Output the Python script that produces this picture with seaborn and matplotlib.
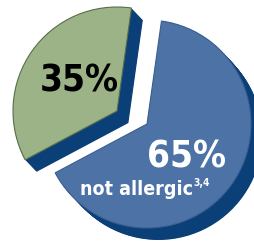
import numpy as np
import matplotlib
matplotlib.use("Agg")
import matplotlib.pyplot as plt
import seaborn as sns

labels = ["not allergic", "allergic"]
values = [65, 35]
pct_labels = ["65%", "35%"]
note = "3,4"

top_colors = ["#4D72A5", "#9CB387"]
dark = "#0A3F78"

sns.set_theme(style="white")
plt.rcParams['font.family'] = ['DejaVu Sans']

fig = plt.figure(figsize=(2.55, 2.45), dpi=100)
ax = fig.add_axes([0, 0, 1, 1])

center = (147, 121)
R = 104
start = 82
shift = (-30, 13)  # displacement of the separated slice


def draw(cx, cy, colors, lw, edges=None):
    wedges, _ = ax.pie(values, startangle=start, counterclock=False,
                       center=(cx, cy), radius=R, colors=colors,
                       wedgeprops=dict(linewidth=lw))
    wedges[1].set_center((cx + shift[0], cy + shift[1]))
    if edges:
        for w, e in zip(wedges, edges):
            w.set_edgecolor(e)
    return wedges


# extrusion layers
depth = 12
for k in np.arange(depth, 0, -0.5):
    draw(center[0] + k * 0.95, center[1] - k, [dark, dark], 0)
# top faces
draw(center[0], center[1], top_colors, 0.8, ["#3A5E90", "#55704A"])

ax.set_xlim(0, 255)
ax.set_ylim(0, 245)
ax.set_aspect('equal')
ax.axis('off')

kw = dict(fontweight='bold', fontstretch='condensed', ha='left', va='baseline')
ax.text(40, 153, pct_labels[1], color="black", fontsize=26.5, **kw)
ax.text(147, 78, pct_labels[0], color="white", fontsize=26.5, **kw)
ax.text(80, 50, labels[0], color="white", fontsize=14, **kw)
ax.text(193, 59, note, color="white", fontsize=7.5, **kw)

fig.savefig("out.png", dpi=100)
